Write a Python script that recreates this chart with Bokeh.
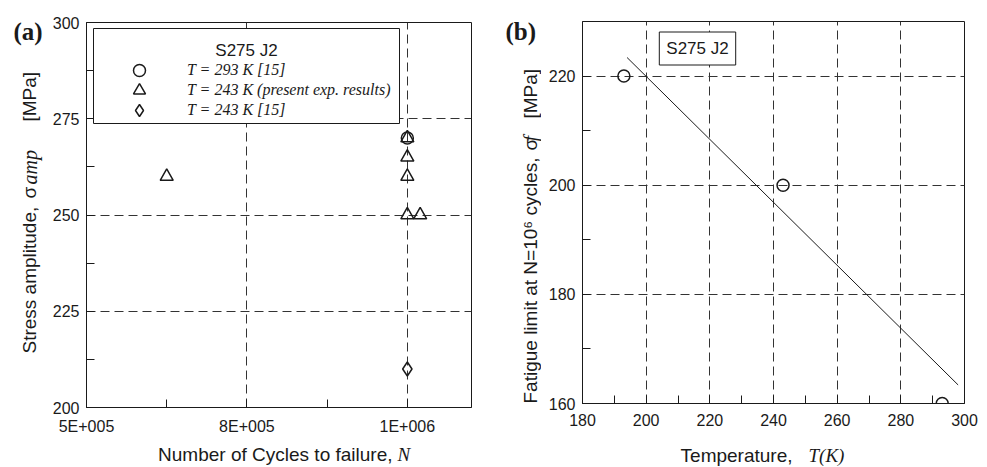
import math
from bokeh.plotting import figure
from bokeh.layouts import row, column
from bokeh.models import FixedTicker, Label, Legend, LegendItem, BoxAnnotation, Range1d
from bokeh.embed import file_html
from bokeh.resources import INLINE

# ---------------- panel (a) data ----------------
tri_N = [625000, 1000000, 1000000, 1000000, 1000000, 1020000]
tri_S = [260, 270, 265, 260, 250, 250]
circ_N = [1000000]
circ_S = [270]
dia_N = [1000000]
dia_S = [210]
a_xticks = [500000, 750000, 1000000]
a_xticklabels = ["5E+005", "8E+005", "1E+006"]
a_xminor = [625000, 875000]
a_yticks = [200, 225, 250, 275, 300]
a_yminor = [212.5, 237.5, 262.5, 287.5]
legend_title = "S275 J2"
legend_labels = ["T = 293 K [15]", "T = 243 K (present exp. results)", "T = 243 K [15]"]

# ---------------- panel (b) data ----------------
T_K = [193, 243, 293]
sigma_f = [220, 200, 160]
fit_T = [194, 298]
fit_sigma = [223.4, 163.4]
b_xticks = [180, 200, 220, 240, 260, 280, 300]
b_xminor = [190, 210, 230, 250, 270, 290]
b_yticks = [160, 180, 200, 220]
b_yminor = [170, 190, 210]

SANS = "Liberation Sans"
SERIF = "Liberation Serif"
INK = "#1a1a1a"
GRID = "#333333"
UP = math.pi / 2


def style(p, xt, xm, yt, ym):
    p.background_fill_color = "white"
    p.border_fill_color = "white"
    p.outline_line_color = INK
    p.outline_line_width = 1
    p.xaxis.ticker = FixedTicker(ticks=xt, minor_ticks=xm)
    p.yaxis.ticker = FixedTicker(ticks=yt, minor_ticks=ym)
    for ax in (p.xaxis[0], p.yaxis[0]):
        ax.axis_line_color = INK
        ax.axis_line_width = 1
        ax.major_tick_in = 8
        ax.major_tick_out = 0
        ax.minor_tick_in = 8
        ax.minor_tick_out = 0
        ax.major_tick_line_color = INK
        ax.minor_tick_line_color = INK
        ax.major_label_text_font = SANS
        ax.major_label_text_font_size = "16px"
        ax.major_label_text_color = INK
    p.xaxis.major_label_standoff = 10
    p.yaxis.major_label_standoff = 7
    for g in (p.xgrid[0], p.ygrid[0]):
        g.grid_line_color = GRID
        g.grid_line_dash = "9 5"
        g.grid_line_width = 1


def lab(p, text, x, y, size="19px", font=SANS, style_="normal", angle=0.0,
        align="left", baseline="alphabetic"):
    p.add_layout(Label(x=x, y=y, x_units="screen", y_units="screen", text=text,
                       text_font=font, text_font_size=size, text_font_style=style_,
                       text_color=INK, angle=angle, text_align=align,
                       text_baseline=baseline))


def text_fig(w, h):
    f = figure(width=w, height=h, x_range=Range1d(0, w), y_range=Range1d(0, h),
               output_backend="svg", toolbar_location=None, min_border=0,
               x_axis_location=None, y_axis_location=None, frame_align=False,
               title=None)
    f.outline_line_color = None
    f.grid.visible = False
    f.background_fill_color = "white"
    f.border_fill_color = "white"
    return f


# ================= figure (a) =================
p1 = figure(width=435, height=440, x_range=Range1d(500000, 1100000),
            y_range=Range1d(200, 300), output_backend="svg", toolbar_location=None,
            min_border_left=41, min_border_right=9, min_border_top=22,
            min_border_bottom=33, frame_align=False)
style(p1, a_xticks, a_xminor, a_yticks, a_yminor)
p1.xaxis.major_label_overrides = {float(v): t for v, t in zip(a_xticks, a_xticklabels)}

r_circ = p1.scatter(circ_N, circ_S, marker="circle", size=12, fill_color=None,
                    line_color=INK, line_width=1.5)
r_tri = p1.scatter(tri_N, tri_S, marker="triangle", size=13, fill_color=None,
                   line_color=INK, line_width=1.5)
r_dia = p1.scatter(dia_N, dia_S, marker="diamond", size=14, fill_color=None,
                   line_color=INK, line_width=1.5)

box = BoxAnnotation(left=7, right=313, top=379, bottom=284,
                    left_units="screen", right_units="screen",
                    top_units="screen", bottom_units="screen",
                    fill_color="white", fill_alpha=1.0,
                    line_color=INK, line_width=1, line_alpha=1.0)
p1.add_layout(box)
lab(p1, legend_title, 160, 357, size="17px", align="center")
for r, text, yb in zip([r_circ, r_tri, r_dia], legend_labels, [322, 302, 282]):
    p1.add_layout(Legend(items=[LegendItem(label=text, renderers=[r])],
                         location=(38, yb), padding=0, margin=0, spacing=0,
                         glyph_width=30, glyph_height=30, label_height=30,
                         label_standoff=33, border_line_alpha=0,
                         background_fill_alpha=0, label_text_font=SERIF,
                         label_text_font_style="italic",
                         label_text_font_size="16px", label_text_color=INK))

# ================= figure (b) =================
p2 = figure(width=446, height=440, x_range=Range1d(180, 300),
            y_range=Range1d(160, 230), output_backend="svg", toolbar_location=None,
            min_border_left=41, min_border_right=23, min_border_top=21,
            min_border_bottom=37, frame_align=False)
style(p2, b_xticks, b_xminor, b_yticks, b_yminor)

p2.line(fit_T, fit_sigma, line_color=INK, line_width=1)
p2.scatter(T_K, sigma_f, marker="circle", size=12, fill_color=None,
           line_color=INK, line_width=1.5)
p2.add_layout(Label(x=115, y=355, x_units="screen", y_units="screen",
                    text=legend_title, text_font=SANS, text_font_size="17px",
                    text_color=INK, text_align="center", text_baseline="middle",
                    border_line_color=INK, border_line_width=1,
                    background_fill_color="white", padding=7))

# ================= text strips (axis titles, panel letters) =================
ya = text_fig(45, 440)
lab(ya, "(a)", 13, 409, size="25px", font=SERIF, style_="bold")
lab(ya, "Stress amplitude,", 29, 87, angle=UP)
lab(ya, "\u03c3", 29, 242, angle=UP)
lab(ya, "amp", 29, 256, size="20px", font=SERIF, style_="italic", angle=UP)
lab(ya, "[MPa]", 29, 319, angle=UP)

yb = text_fig(61, 440)
lab(yb, "(b)", 25, 409, size="25px", font=SERIF, style_="bold")
lab(yb, "Fatigue limit at N=10\u2076 cycles,", 50, 37, angle=UP)
lab(yb, "\u03c3", 50, 290, angle=UP)
lab(yb, "f", 50, 299, size="20px", font=SERIF, style_="italic", angle=UP)
lab(yb, "[MPa]", 50, 322, angle=UP)

xa = text_fig(480, 27)
lab(xa, "Number of Cycles to failure,", 392, 13, align="right")
lab(xa, "N", 397, 13, font=SERIF, style_="italic")

xb = text_fig(507, 27)
lab(xb, "Temperature,", 312, 12, align="right")
lab(xb, "T(K)", 328, 12, font=SERIF, style_="italic")

layout = column(row(ya, p1, yb, p2), row(xa, xb))
open("out.html", "w").write(file_html(layout, INLINE))
